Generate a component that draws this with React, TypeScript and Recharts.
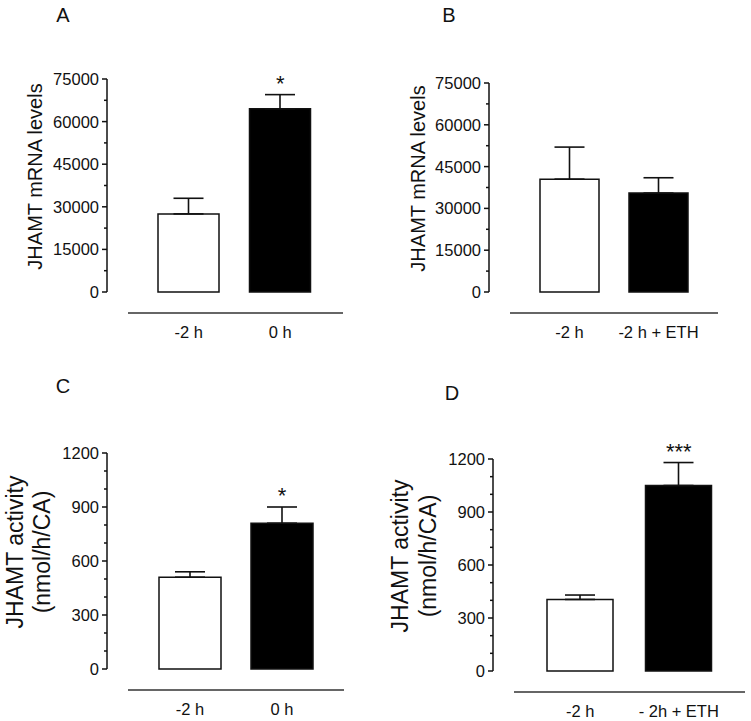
import { Bar, BarChart, Cell, ErrorBar, ReferenceDot, XAxis, YAxis } from 'recharts'

// panel A: mRNA, -2 h vs 0 h
const groupsA = ['-2 h', '0 h']
const mrnaA = [27500, 64500]
const mrnaSemA = [5500, 5000]
const starsA = ['', '*']

// panel B: mRNA, -2 h vs -2 h + ETH
const groupsB = ['-2 h', '-2 h + ETH']
const mrnaB = [40500, 35500]
const mrnaSemB = [11500, 5500]
const starsB = ['', '']

// panel C: activity, -2 h vs 0 h
const groupsC = ['-2 h', '0 h']
const activityC = [510, 810]
const activitySemC = [30, 90]
const starsC = ['', '*']

// panel D: activity, -2 h vs - 2h + ETH
const groupsD = ['-2 h', '- 2h + ETH']
const activityD = [405, 1050]
const activitySemD = [25, 130]
const starsD = ['', '***']

const mrnaMajor = [0, 15000, 30000, 45000, 60000, 75000]
const mrnaMinor = [7500, 22500, 37500, 52500, 67500]
const activityMajor = [0, 300, 600, 900, 1200]
const activityMinor = [100, 200, 400, 500, 700, 800, 1000, 1100]

const FONT = '"Liberation Sans", Arial, sans-serif'
const INK = '#111'

type PanelProps = {
  left: number
  top: number
  width: number
  height: number
  plot: { left: number; top: number; right: number; bottom: number }
  groups: string[]
  values: number[]
  sems: number[]
  stars: string[]
  major: number[]
  minor: number[]
  barSize: number
  padL: number
  padR: number
  labelLines: string[]
  labelSize: number
  labelDx: number[]
  letter: string
  letterPos: { x: number; y: number }
}

function Panel(p: PanelProps) {
  const data = p.groups.map((g, i) => ({ group: g, value: p.values[i], err: [0, p.sems[i]] }))
  const yw = 60
  const xh = 30
  const max = p.major[p.major.length - 1]
  return (
    <div style={{ position: 'absolute', left: p.left, top: p.top, width: p.width, height: p.height }}>
      <div
        style={{
          position: 'absolute',
          left: p.letterPos.x,
          top: p.letterPos.y,
          transform: 'translate(-50%, -50%)',
          fontFamily: FONT,
          fontSize: 20,
          color: INK,
        }}
      >
        {p.letter}
      </div>
      <BarChart
        width={p.width}
        height={p.height}
        data={data}
        margin={{
          top: p.plot.top,
          left: p.plot.left - yw,
          right: p.width - p.plot.right,
          bottom: p.height - p.plot.bottom - xh,
        }}
      >
        <XAxis
          dataKey="group"
          height={xh}
          axisLine={false}
          tickLine={false}
          tickSize={0}
          tickMargin={0}
          padding={{ left: p.padL, right: p.padR }}
          interval={0}
          tick={(t: any) => (
            <text
              x={t.x}
              y={t.y + 40}
              textAnchor="middle"
              dominantBaseline="central"
              fontFamily={FONT}
              fontSize={16.5}
              fill={INK}
            >
              {t.payload.value}
            </text>
          )}
          label={{
            content: (l: any) => {
              const vb = l.viewBox
              if (!vb) return null
              return (
                <line
                  x1={vb.x + 21}
                  x2={vb.x + vb.width - 2}
                  y1={vb.y + 21}
                  y2={vb.y + 21}
                  stroke="#333"
                  strokeWidth={1.6}
                />
              )
            },
          }}
        />
        <YAxis
          type="number"
          domain={[0, max]}
          width={yw}
          ticks={[...p.major, ...p.minor].sort((a, b) => a - b)}
          interval={0}
          axisLine={{ stroke: INK, strokeWidth: 1.5 }}
          tickLine={false}
          tickSize={0}
          tickMargin={0}
          tick={(t: any) => {
            const isMajor = p.major.includes(t.payload.value)
            return (
              <g>
                <line x1={t.x} x2={t.x - (isMajor ? 5 : 3)} y1={t.y} y2={t.y} stroke={INK} strokeWidth={1.5} />
                {isMajor && (
                  <text
                    x={t.x - 8}
                    y={t.y}
                    textAnchor="end"
                    dominantBaseline="central"
                    fontFamily={FONT}
                    fontSize={16.5}
                    fill={INK}
                  >
                    {t.payload.value}
                  </text>
                )}
              </g>
            )
          }}
          label={{
            content: (l: any) => {
              const vb = l.viewBox
              if (!vb) return null
              const ax = vb.x + vb.width
              const cy = vb.y + vb.height / 2 - 9
              return (
                <g>
                  {p.labelLines.map((s, i) => (
                    <text
                      key={i}
                      x={ax + p.labelDx[i]}
                      y={cy}
                      transform={`rotate(-90, ${ax + p.labelDx[i]}, ${cy})`}
                      textAnchor="middle"
                      dominantBaseline="central"
                      fontFamily={FONT}
                      fontSize={p.labelSize}
                      fill={INK}
                    >
                      {s}
                    </text>
                  ))}
                </g>
              )
            },
          }}
        />
        <Bar dataKey="value" barSize={p.barSize} stroke={INK} strokeWidth={1.5} isAnimationActive={false}>
          {data.map((_, i) => (
            <Cell key={i} fill={i === 0 ? '#ffffff' : '#000000'} />
          ))}
          <ErrorBar dataKey="err" direction="y" width={15} stroke={INK} strokeWidth={1.6} isAnimationActive={false} />
        </Bar>
        {p.stars.map((s, i) =>
          s ? (
            <ReferenceDot
              key={i}
              x={p.groups[i]}
              y={p.values[i] + p.sems[i]}
              r={1}
              fill="none"
              stroke="none"
              label={{ value: s, position: 'top', offset: 3, fontSize: 22, fill: INK, fontFamily: FONT }}
            />
          ) : null
        )}
      </BarChart>
    </div>
  )
}

export default function App() {
  return (
    <div style={{ position: 'absolute', left: 0, top: 0, width: 751, height: 721, background: '#fff' }}>
      <Panel
        left={0}
        top={0}
        width={375}
        height={360}
        plot={{ left: 107, top: 79, right: 345, bottom: 292 }}
        groups={groupsA}
        values={mrnaA}
        sems={mrnaSemA}
        stars={starsA}
        major={mrnaMajor}
        minor={mrnaMinor}
        barSize={61}
        padL={36}
        padR={19}
        labelLines={['JHAMT mRNA levels']}
        labelSize={20}
        labelDx={[-72]}
        letter="A"
        letterPos={{ x: 63, y: 15 }}
      />
      <Panel
        left={375}
        top={0}
        width={376}
        height={360}
        plot={{ left: 114, top: 83, right: 345, bottom: 292 }}
        groups={groupsB}
        values={mrnaB}
        sems={mrnaSemB}
        stars={starsB}
        major={mrnaMajor}
        minor={mrnaMinor}
        barSize={59}
        padL={36}
        padR={17}
        labelLines={['JHAMT mRNA levels']}
        labelSize={20}
        labelDx={[-71]}
        letter="B"
        letterPos={{ x: 74, y: 15 }}
      />
      <Panel
        left={0}
        top={360}
        width={375}
        height={361}
        plot={{ left: 107, top: 93, right: 346, bottom: 309 }}
        groups={groupsC}
        values={activityC}
        sems={activitySemC}
        stars={starsC}
        major={activityMajor}
        minor={activityMinor}
        barSize={62}
        padL={37}
        padR={18}
        labelLines={['JHAMT activity', '(nmol/h/CA)']}
        labelSize={23}
        labelDx={[-92, -65]}
        letter="C"
        letterPos={{ x: 63, y: 26 }}
      />
      <Panel
        left={375}
        top={360}
        width={376}
        height={361}
        plot={{ left: 118, top: 99, right: 372, bottom: 311 }}
        groups={groupsD}
        values={activityD}
        sems={activitySemD}
        stars={starsD}
        major={activityMajor}
        minor={activityMinor}
        barSize={66}
        padL={38}
        padR={19}
        labelLines={['JHAMT activity', '(nmol/h/CA)']}
        labelSize={23}
        labelDx={[-93, -65]}
        letter="D"
        letterPos={{ x: 77, y: 33 }}
      />
    </div>
  )
}
